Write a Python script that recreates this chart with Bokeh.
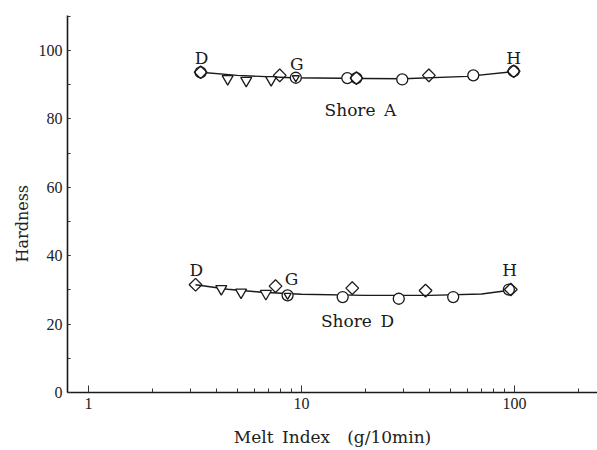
import math
from bokeh.plotting import figure
from bokeh.models import (FixedTicker, SingleIntervalTicker, NumeralTickFormatter,
                          Range1d, Title)
from bokeh.core.properties import value
from bokeh.embed import file_html
from bokeh.resources import INLINE

TICK_FONT = "Liberation Serif"
TEXT_FONT = "DejaVu Serif"
INK = "#1a1a1a"

# Shore A hardness vs melt index
a_tri_x = [4.5, 5.5, 7.2]
a_tri_y = [91.7, 91.2, 91.4]
a_circ_x = [3.36, 9.4, 16.4, 18.1, 29.7, 64.0, 99.0]
a_circ_y = [93.6, 92.0, 91.9, 91.9, 91.5, 92.7, 93.9]
a_diam_x = [3.36, 7.9, 18.1, 39.6, 99.0]
a_diam_y = [93.6, 92.7, 91.9, 92.7, 93.9]
a_curve_x = [3.36, 5.0, 9.0, 20.0, 30.0, 60.0, 100.0]
a_curve_y = [93.6, 92.7, 92.0, 91.8, 91.7, 92.4, 93.8]

# Shore D hardness vs melt index
d_tri_x = [4.2, 5.2, 6.8]
d_tri_y = [30.3, 29.3, 28.9]
d_circ_x = [8.6, 15.6, 28.6, 51.5, 94.0]
d_circ_y = [28.4, 27.9, 27.4, 27.9, 30.1]
d_diam_x = [3.18, 7.55, 17.3, 38.2, 96.0]
d_diam_y = [31.5, 31.1, 30.5, 29.8, 30.1]
d_curve_x = [3.18, 4.5, 6.5, 10.0, 20.0, 40.0, 70.0, 95.0]
d_curve_y = [31.5, 30.2, 29.3, 28.7, 28.4, 28.4, 28.8, 29.9]

# grade G: small triangle drawn inside the circle
g_x = [9.4, 8.6]
g_y = [92.0, 28.4]

# point labels
lab_x = [3.39, 9.5, 98.9, 3.21, 8.97, 94.8]
lab_y = [97.7, 95.9, 97.7, 35.7, 33.3, 35.7]
lab_t = ["D", "G", "H", "D", "G", "H"]
curve_lab_x = [18.9, 18.3]
curve_lab_y = [82.5, 21.0]
curve_lab_t = ["Shore\u2002A", "Shore\u2002D"]

x_major = [1, 10, 100]
x_minor = [2, 3, 4, 5, 6, 7, 8, 9, 20, 30, 40, 50, 60, 70, 80, 90, 200]

p = figure(width=597, height=450, x_axis_type="log",
           x_range=Range1d(0.797, 245), y_range=Range1d(0, 110.2),
           output_backend="svg", toolbar_location=None,
           min_border_left=67, min_border_right=0,
           min_border_top=15, min_border_bottom=58)
p.outline_line_color = None
p.xgrid.visible = False
p.ygrid.visible = False
p.background_fill_color = "white"
p.border_fill_color = "white"

for ax in (p.xaxis[0], p.yaxis[0]):
    ax.axis_line_color = INK
    ax.axis_line_width = 1.6
    ax.major_tick_line_color = "#333333"
    ax.minor_tick_line_color = "#333333"
    ax.major_label_text_font = TICK_FONT
    ax.major_label_text_font_size = "16px"
    ax.major_label_text_color = "#222222"
    ax.axis_label_text_font = TEXT_FONT
    ax.axis_label_text_font_style = "normal"
    ax.axis_label_text_font_size = "17px"
    ax.axis_label_text_color = "#222222"

p.xaxis.ticker = FixedTicker(ticks=x_major, minor_ticks=x_minor)
p.xaxis.formatter = NumeralTickFormatter(format="0")
p.xaxis.major_tick_in = 7
p.xaxis.major_tick_out = 0
p.xaxis.minor_tick_in = 4
p.xaxis.minor_tick_out = 0
p.xaxis.major_label_standoff = 5
p.xaxis.axis_label = "Melt\u2002Index\u2003(g/10min)"
p.xaxis.axis_label_standoff = 15

p.yaxis.ticker = SingleIntervalTicker(interval=20, num_minor_ticks=2)
p.yaxis.major_tick_in = 3
p.yaxis.major_tick_out = 0
p.yaxis.minor_tick_in = 3
p.yaxis.minor_tick_out = 0
p.yaxis.major_label_standoff = 5

# vertical axis title, anchored from the bottom of the frame
p.add_layout(Title(text="Hardness", align="left", offset=130, standoff=8,
                   text_font=TEXT_FONT, text_font_size="16px",
                   text_font_style="normal", text_color="#222222"), "left")

# fitted curves
p.line(a_curve_x, a_curve_y, line_color=INK, line_width=1.4)
p.line(d_curve_x, d_curve_y, line_color=INK, line_width=1.4)

mk = dict(line_color=INK, fill_color="white", line_width=1.3)
p.scatter(a_tri_x, a_tri_y, marker="inverted_triangle", size=11, **mk)
p.scatter(d_tri_x, d_tri_y, marker="inverted_triangle", size=11, **mk)
p.scatter(a_circ_x, a_circ_y, marker="circle", size=11, **mk)
p.scatter(d_circ_x, d_circ_y, marker="circle", size=11, **mk)
p.scatter(a_diam_x, a_diam_y, marker="square", angle=math.pi / 4, size=9,
          fill_alpha=0, line_color=INK, line_width=1.3)
p.scatter(d_diam_x, d_diam_y, marker="square", angle=math.pi / 4, size=9,
          fill_alpha=0, line_color=INK, line_width=1.3)
p.scatter(g_x, g_y, marker="inverted_triangle", size=7, **mk)

p.text(lab_x, lab_y, text=lab_t, text_font=value(TEXT_FONT), text_font_size="17px",
       text_align="center", text_baseline="middle", text_color=INK)
p.text(curve_lab_x, curve_lab_y, text=curve_lab_t, text_font=value(TEXT_FONT),
       text_font_size="17px", text_align="center", text_baseline="middle",
       text_color=INK)

open("out.html", "w").write(file_html(p, INLINE))
